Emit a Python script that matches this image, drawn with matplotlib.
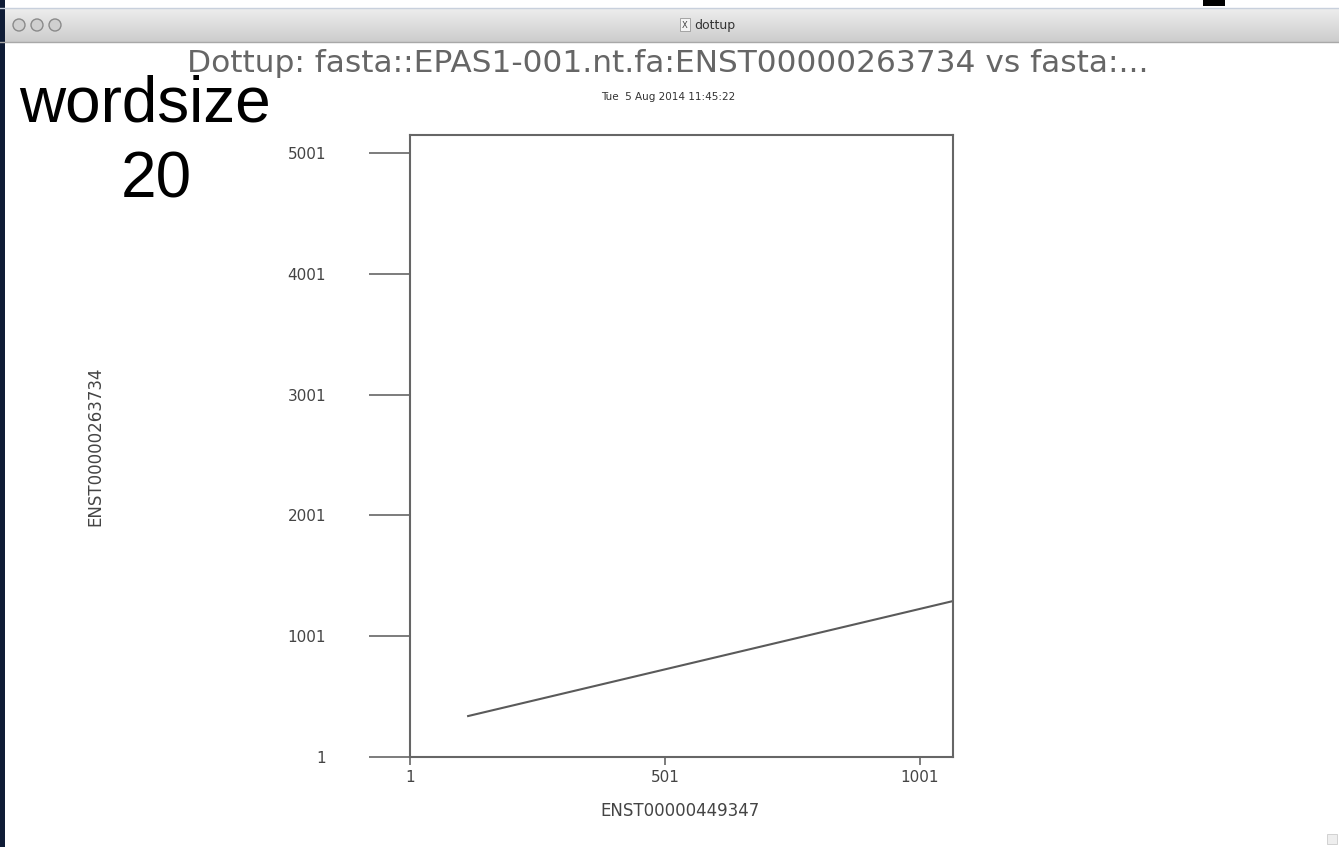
import matplotlib
matplotlib.use("Agg")
import matplotlib.pyplot as plt
from matplotlib.patches import Rectangle, Circle
import numpy as np

# sequence lengths (axis extents) and the single diagonal hit of the dotplot
x_len = 1066
y_len = 5150
x_ticks = [1, 501, 1001]
y_ticks = [1, 1001, 2001, 3001, 4001, 5001]
hit_x = [115, 1066]
hit_y = [340, 1292]

title = "Dottup: fasta::EPAS1-001.nt.fa:ENST00000263734 vs fasta:..."
subtitle = "Tue  5 Aug 2014 11:45:22"
x_name = "ENST00000449347"
y_name = "ENST00000263734"

W, H = 1339, 847
fig = plt.figure(figsize=(W / 100, H / 100), dpi=100)
fig.patch.set_facecolor("white")


def px(x, y):
    # pixel coords (top-left origin) -> figure fraction
    return x / W, 1 - y / H


# --- window chrome ---
bg = fig.add_axes([0, 0, 1, 1])
bg.set_xlim(0, W)
bg.set_ylim(H, 0)
bg.axis("off")
grad = np.linspace(0.93, 0.80, 50).reshape(-1, 1)
bg.imshow(grad, cmap="gray", vmin=0, vmax=1, extent=[0, W, 42, 8], aspect="auto")
bg.plot([0, W], [42, 42], color="#a8a8a8", lw=1)
bg.plot([0, W], [8, 8], color="#c8d0dc", lw=1)
for cx in [19, 37, 55]:
    bg.add_patch(Circle((cx, 25), 6, facecolor="#d0d0d0", edgecolor="#8a8a8a", lw=1))
bg.add_patch(Rectangle((680, 18), 10, 13, facecolor="#f4f4f4", edgecolor="#999999", lw=0.6))
bg.text(685, 25, "X", fontsize=6, ha="center", va="center", color="#444444")
bg.text(694, 25, "dottup", fontsize=9, ha="left", va="center", color="#333333")
bg.add_patch(Rectangle((1203, 0), 22, 6, facecolor="black", lw=0))
bg.add_patch(Rectangle((0, 0), 5, H, facecolor="#0f1c36", lw=0))
bg.add_patch(Rectangle((1327, 834), 10, 10, facecolor="#eeeeee", edgecolor="#cccccc", lw=0.6))

# --- dotplot ---
l, b = px(410, 757)
r, t = px(953, 135)
ax = fig.add_axes([l, b, r - l, t - b])
ax.plot(hit_x, hit_y, color="#5a5a5a", lw=1.5)
ax.set_xlim(1, x_len)
ax.set_ylim(1, y_len)
ax.set_xticks(x_ticks)
ax.set_yticks(y_ticks)
for s in ax.spines.values():
    s.set_color("#666666")
    s.set_linewidth(1.5)
ax.tick_params(axis="y", direction="out", length=29.5, width=1.2, color="#666666",
               pad=31, labelsize=11, labelcolor="#444444")
ax.tick_params(axis="x", direction="out", length=6, width=1.2, color="#666666",
               pad=3, labelsize=11, labelcolor="#444444")

fig.text(*px(668, 64), title, fontsize=22.5, color="#666666", ha="center", va="center")
fig.text(*px(668, 97), subtitle, fontsize=7.5, color="#333333", ha="center", va="center")
fig.text(*px(680, 811), x_name, fontsize=12, color="#444444", ha="center", va="center")
fig.text(*px(95, 446), y_name, fontsize=12, color="#444444", ha="center", va="center",
         rotation=90)

# overlay annotation
fig.text(*px(145, 105), "wordsize", fontsize=46, family="Liberation Sans",
         color="black", ha="center", va="center")
fig.text(*px(156, 181), "20", fontsize=46, family="Liberation Sans",
         color="black", ha="center", va="center")

fig.savefig("out.png", dpi=100)
